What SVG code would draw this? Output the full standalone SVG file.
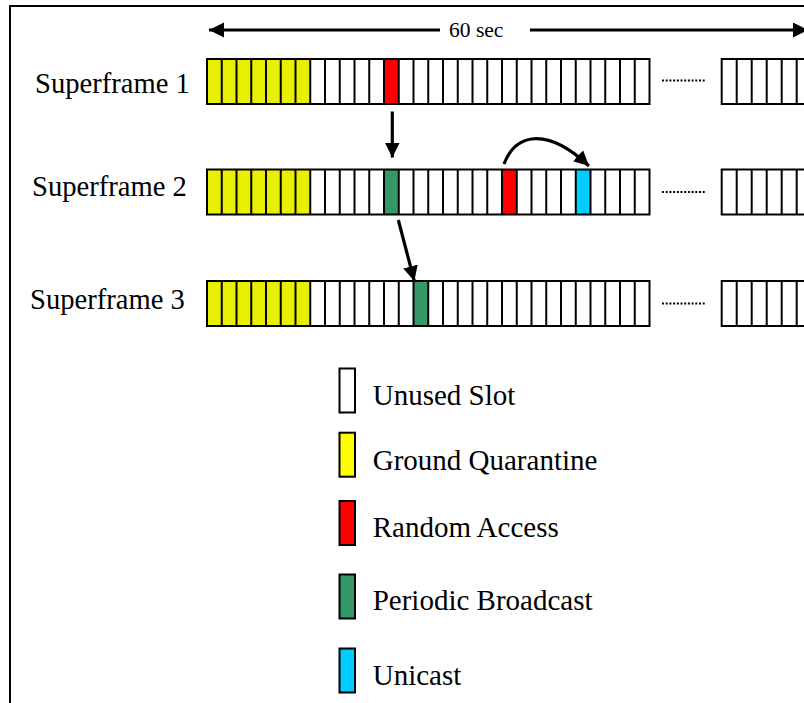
<svg xmlns="http://www.w3.org/2000/svg" xmlns:xlink="http://www.w3.org/1999/xlink" width="804" height="703" viewBox="0 0 804 703">
<style>
text{font-family:"Liberation Serif","Times New Roman",serif;fill:#000}
.lbl{font-size:28.6px}
.leg{font-size:29px}
.bar{fill:none;stroke:#000;stroke-width:2}
.dv{fill:none;stroke:#000;stroke-width:2}
.yl{fill:#e8ef00}
.rd{fill:#ff0000}
.gr{fill:#339966}
.cy{fill:#00ccff}
.sw{stroke:#000;stroke-width:2}
.ln{fill:none;stroke:#000;stroke-width:3.2}
.dots{fill:none;stroke:#000;stroke-width:2;stroke-dasharray:2 1.7}
</style>
<defs>
<marker id="ah" markerUnits="userSpaceOnUse" markerWidth="16" markerHeight="16" refX="15" refY="7.5" orient="auto">
<path d="M0,0L15,7.5L0,15z" fill="#000"/>
</marker>
<path id="div" d="M221.75,0v45M236.5,0v45M251.25,0v45M266,0v45M280.75,0v45M295.5,0v45M310.25,0v45M325,0v45M339.75,0v45M354.5,0v45M369.25,0v45M384,0v45M398.75,0v45M413.5,0v45M428.25,0v45M443,0v45M457.75,0v45M472.5,0v45M487.25,0v45M502,0v45M516.75,0v45M531.5,0v45M546.25,0v45M561,0v45M575.75,0v45M590.5,0v45M605.25,0v45M620,0v45M634.75,0v45M736.7,0v45M751.7,0v45M766.7,0v45M781.7,0v45M796.7,0v45"/>
</defs>
<rect width="804" height="703" fill="#fff"/>
<g id="frame"><path d="M10,703V6H804" fill="none" stroke="#000" stroke-width="2"/></g>

<g id="duration">
<path class="ln" d="M440,30H209" marker-end="url(#ah)"/>
<path class="ln" d="M530,30H808" marker-end="url(#ah)"/>
<text x="449" y="37" style="font-size:21.5px">60 sec</text>
</g>

<g id="superframe1">
<text class="lbl" x="35" y="93">Superframe 1</text>
<g transform="translate(0,59)">
<rect class="yl" x="207" y="0" width="103.25" height="45"/>
<rect class="rd" x="384" y="0" width="14.75" height="45"/>
<rect class="bar" x="207" y="0" width="442.5" height="45"/>
<rect class="bar" x="721.7" y="0" width="100" height="45"/>
<use xlink:href="#div" class="dv"/>
<path class="dots" d="M662,21.5H706"/>
</g>
</g>

<g id="superframe2">
<text class="lbl" x="32" y="196">Superframe 2</text>
<g transform="translate(0,169.5)">
<rect class="yl" x="207" y="0" width="103.25" height="45"/>
<rect class="gr" x="384" y="0" width="14.75" height="45"/>
<rect class="rd" x="502" y="0" width="14.75" height="45"/>
<rect class="cy" x="575.75" y="0" width="14.75" height="45"/>
<rect class="bar" x="207" y="0" width="442.5" height="45"/>
<rect class="bar" x="721.7" y="0" width="100" height="45"/>
<use xlink:href="#div" class="dv"/>
<path class="dots" d="M662,22.5H706"/>
</g>
</g>

<g id="superframe3">
<text class="lbl" x="30" y="309">Superframe 3</text>
<g transform="translate(0,281)">
<rect class="yl" x="207" y="0" width="103.25" height="45"/>
<rect class="gr" x="413.5" y="0" width="14.75" height="45"/>
<rect class="bar" x="207" y="0" width="442.5" height="45"/>
<rect class="bar" x="721.7" y="0" width="100" height="45"/>
<use xlink:href="#div" class="dv"/>
<path class="dots" d="M662,22.5H706"/>
</g>
</g>

<g id="connectors">
<path class="ln" d="M392.3,111.5V157.5" marker-end="url(#ah)"/>
<path class="ln" d="M398.3,220L414.3,281" marker-end="url(#ah)"/>
<path class="ln" d="M504,164C515,135 545,125 589,166" marker-end="url(#ah)"/>
</g>

<g id="legend-unused">
<rect class="sw" x="339.5" y="368.5" width="15.5" height="44" fill="#fff"/>
<text class="leg" x="372.7" y="405">Unused Slot</text>
</g>
<g id="legend-quarantine">
<rect class="sw" x="339.5" y="432.7" width="15.5" height="44" fill="#ffff00"/>
<text class="leg" x="372.7" y="470">Ground Quarantine</text>
</g>
<g id="legend-random">
<rect class="sw" x="339.5" y="501" width="15.5" height="44" fill="#ff0000"/>
<text class="leg" x="372.7" y="537">Random Access</text>
</g>
<g id="legend-broadcast">
<rect class="sw" x="339.5" y="574.5" width="15.5" height="44" fill="#339966"/>
<text class="leg" x="372.7" y="610">Periodic Broadcast</text>
</g>
<g id="legend-unicast">
<rect class="sw" x="339.5" y="648.5" width="15.5" height="44" fill="#00ccff"/>
<text class="leg" x="372.7" y="685">Unicast</text>
</g>
</svg>
